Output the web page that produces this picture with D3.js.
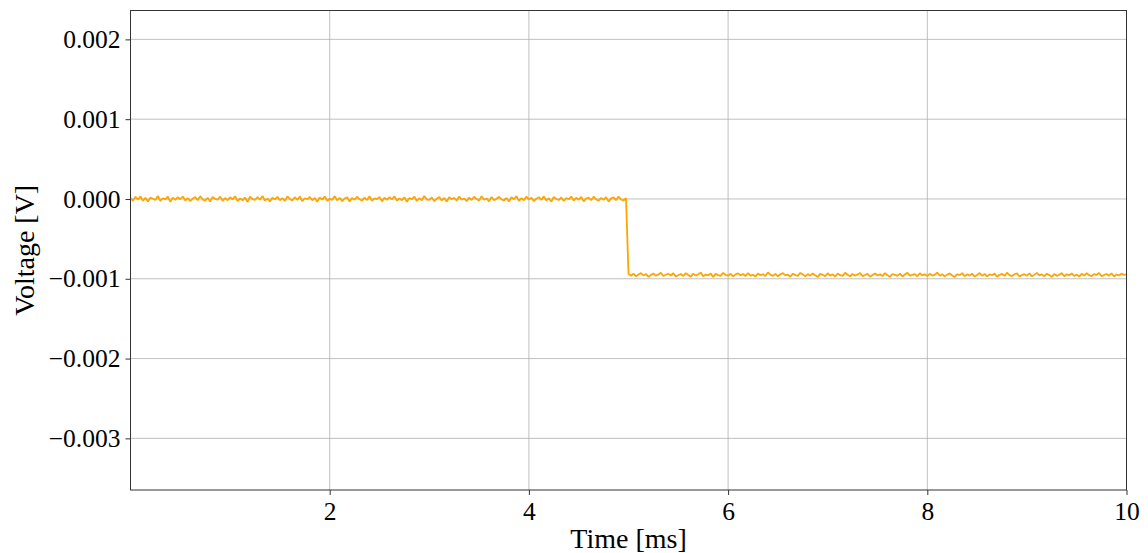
<!DOCTYPE html>
<html>
<head>
<meta charset="utf-8">
<script src="https://cdn.jsdelivr.net/npm/d3@7"></script>
<style>
  body { margin: 0; background: #fff; }
  svg { display: block; font-family: "Liberation Serif", "DejaVu Serif", serif; }
  .grid line { stroke: #b0b0b0; stroke-width: 0.8; }
  .axis text { font-family: "Liberation Serif", "DejaVu Serif", serif; font-size: 25.5px; fill: #000; }
  .axis line { stroke: #333; }
  .axis path { display: none; }
</style>
</head>
<body>
<div id="chart"></div>
<script>
// sampled signal, microvolts, one sample every 0.025 ms from t = 0
const sampleStepMs = 0.025;
const voltageUV = [
  6,-18,27,-9,33,-22,14,-31,19,3,-13,37,-25,9,-4,28,-36,16,-12,22,
  -3,31,-19,10,-28,5,24,-15,36,-7,-21,15,-33,25,2,-10,30,-24,12,-16,
  21,-6,34,-27,8,-18,18,-37,28,-2,-13,24,-9,39,-21,4,-30,16,-5,27,
  -15,10,-25,33,0,-19,22,-12,31,-28,9,-3,25,-16,13,-34,19,-8,30,-22,
  3,-12,36,-18,15,-27,6,22,-31,12,-9,28,-4,-21,18,-13,34,-24,7,-2,
  27,-30,16,-10,24,-6,33,-19,5,-15,21,-36,13,-3,30,-25,9,-16,37,-7,
  -12,19,-28,2,25,-18,12,-33,22,-4,15,-22,31,-9,6,-27,18,-13,28,-1,
  -21,34,-10,7,-30,24,-16,3,27,-6,-19,13,-31,21,-3,36,-24,10,-15,30,
  -7,16,-27,4,22,-12,33,-18,9,-34,25,0,-13,19,-25,12,-4,31,-21,15,
  -9,27,-30,6,18,-16,28,-3,-22,13,-10,24,-33,7,21,-15,30,-6,-19,12,
  // step at 5 ms
  -941,-962,-935,-969,-947,-929,-958,-939,-976,-953,-933,-963,-945,-925,-966,-950,-937,-959,-931,-971,
  -955,-940,-965,-930,-952,-974,-936,-961,-944,-923,-968,-947,-958,-933,-977,-939,-954,-964,-927,-950,
  -961,-938,-970,-945,-932,-957,-940,-966,-928,-960,-950,-973,-934,-955,-943,-965,-921,-952,-963,-939,
  -969,-944,-930,-958,-947,-975,-936,-954,-964,-927,-945,-970,-941,-961,-933,-957,-979,-938,-950,-967,
  -931,-960,-944,-972,-934,-955,-963,-924,-950,-968,-940,-961,-946,-928,-966,-952,-937,-975,-954,-933,
  -958,-943,-967,-929,-955,-976,-940,-950,-964,-936,-971,-946,-926,-961,-952,-942,-968,-931,-957,-944,
  -966,-938,-960,-950,-922,-963,-942,-970,-948,-933,-958,-977,-943,-954,-929,-967,-945,-961,-936,-973,
  -952,-928,-964,-940,-969,-946,-956,-935,-975,-950,-938,-963,-924,-955,-966,-943,-931,-972,-954,-942,
  -961,-933,-970,-948,-926,-958,-945,-967,-936,-954,-976,-940,-963,-950,-929,-969,-944,-957,-934,-964,
  -946,-974,-938,-960,-931,-955,-966,-942,-950,-927,-969,-952,-940,-961,-933,-972,-947,-958,-936,-951,
  -944
];

const xTicks = [2, 4, 6, 8, 10];
const yTicks = [-0.003, -0.002, -0.001, 0.000, 0.001, 0.002];
const xDomain = [0, 10];
const yDomain = [-0.003647, 0.002362];

const W = 1148, H = 553;
const plotLeft = 130.5, plotRight = 1126.5, plotTop = 10.5, plotBottom = 490;

const svg = d3.select('#chart')
  .append('svg')
  .attr('width', W)
  .attr('height', H);

svg.append('rect').attr('width', W).attr('height', H).attr('fill', '#fff');

const x = d3.scaleLinear().domain(xDomain).range([plotLeft, plotRight]);
const y = d3.scaleLinear().domain(yDomain).range([plotBottom, plotTop]);

// grid
const grid = svg.append('g').attr('class', 'grid');
grid.selectAll('.gx').data(xTicks).enter().append('line')
  .attr('x1', d => x(d)).attr('x2', d => x(d))
  .attr('y1', plotTop).attr('y2', plotBottom);
grid.selectAll('.gy').data(yTicks).enter().append('line')
  .attr('x1', plotLeft).attr('x2', plotRight)
  .attr('y1', d => y(d)).attr('y2', d => y(d));

// signal
const line = d3.line()
  .x((d, i) => x(i * sampleStepMs))
  .y(d => y(d / 1e6));

svg.append('path')
  .datum(voltageUV)
  .attr('d', line)
  .attr('fill', 'none')
  .attr('stroke', '#ffa500')
  .attr('stroke-width', 1.8)
  .attr('stroke-linejoin', 'bevel');

// axes
svg.append('g')
  .attr('class', 'axis')
  .attr('transform', 'translate(0,' + plotBottom + ')')
  .call(d3.axisBottom(x).tickValues(xTicks).tickSize(5).tickPadding(5).tickFormat(d3.format('d')))
  .selectAll('text').attr('dy', '0.78em');

svg.append('g')
  .attr('class', 'axis')
  .attr('transform', 'translate(' + plotLeft + ',0)')
  .call(d3.axisLeft(y).tickValues(yTicks).tickSize(5).tickPadding(5).tickFormat(d3.format('.3f')));

// frame
svg.append('rect')
  .attr('x', plotLeft).attr('y', plotTop)
  .attr('width', plotRight - plotLeft).attr('height', plotBottom - plotTop)
  .attr('fill', 'none')
  .attr('stroke', '#333')
  .attr('stroke-width', 1);

// labels
svg.append('text')
  .attr('x', (plotLeft + plotRight) / 2)
  .attr('y', 548)
  .attr('text-anchor', 'middle')
  .style('font-size', '28px')
  .text('Time [ms]');

svg.append('text')
  .attr('transform', 'translate(34,' + (plotTop + plotBottom) / 2 + ') rotate(-90)')
  .attr('text-anchor', 'middle')
  .style('font-size', '28px')
  .text('Voltage [V]');
</script>
</body>
</html>
